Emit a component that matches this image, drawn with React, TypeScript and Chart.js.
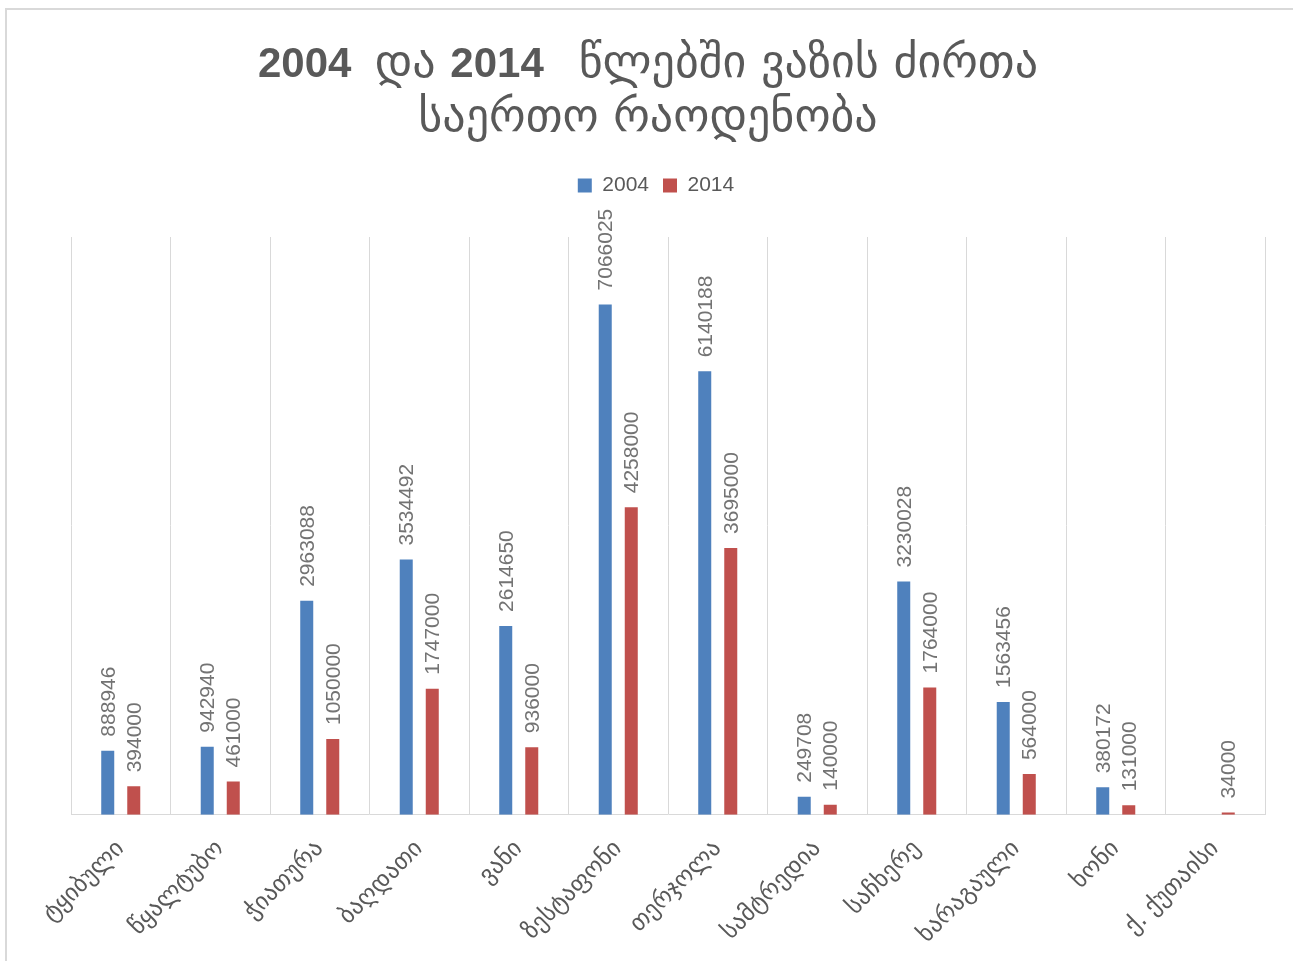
import React, { useEffect, useRef } from "react";
import { Chart, registerables } from "chart.js";

Chart.register(...registerables);

const categories = [
  "ტყიბული",
  "წყალტუბო",
  "ჭიათურა",
  "ბაღდათი",
  "ვანი",
  "ზესტაფონი",
  "თერჯოლა",
  "სამტრედია",
  "საჩხერე",
  "ხარაგაული",
  "ხონი",
  "ქ. ქუთაისი",
];

const values2004 = [888946, 942940, 2963088, 3534492, 2614650, 7066025, 6140188, 249708, 3230028, 1563456, 380172, null];
const values2014 = [394000, 461000, 1050000, 1747000, 936000, 4258000, 3695000, 140000, 1764000, 564000, 131000, 34000];

const seriesNames = ["2004", "2014"];
const titleLines = ["2004  და 2014   წლებში ვაზის ძირთა", "საერთო რაოდენობა"];

const FONT = "'Liberation Sans', 'DejaVu Sans', sans-serif";
const LATIN_TITLE = `bold 42px 'Liberation Sans', sans-serif`;
const GEO_TITLE = `46px 'DejaVu Sans', sans-serif`;

const splitRuns = (s: string) => {
  const runs: { t: string; geo: boolean }[] = [];
  for (const ch of s) {
    const geo = /[\u10A0-\u10FF]/.test(ch);
    const last = runs[runs.length - 1];
    if (last && (last.geo === geo || ch === " ")) last.t += ch;
    else runs.push({ t: ch, geo });
  }
  return runs;
};

const titlePlugin = {
  id: "mixedTitle",
  afterDraw(chart: any) {
    const ctx = chart.ctx;
    const tb = chart.titleBlock;
    if (!tb) return;
    const cx = chart.width / 2 - 2;
    const lineH = 54;
    ctx.save();
    ctx.fillStyle = "#595959";
    ctx.textBaseline = "middle";
    ctx.textAlign = "left";
    titleLines.forEach((line, li) => {
      const runs = splitRuns(line);
      let total = 0;
      const widths = runs.map((r) => {
        ctx.font = r.geo ? GEO_TITLE : LATIN_TITLE;
        const w = ctx.measureText(r.t).width;
        total += w;
        return w;
      });
      let x = cx - total / 2;
      const y = tb.top + 25 + li * lineH;
      runs.forEach((r, i) => {
        ctx.font = r.geo ? GEO_TITLE : LATIN_TITLE;
        ctx.fillText(r.t, x, y);
        x += widths[i];
      });
    });
    ctx.restore();
  },
};

const legendGap = {
  id: "legendGap",
  beforeInit(chart: any) {
    const legend = chart.legend;
    if (!legend) return;
    const orig = legend.fit;
    legend.fit = function () {
      orig.bind(legend)();
      this.height += 31;
    };
  },
  afterLayout(chart: any) {
    const legend = chart.legend;
    if (!legend) return;
    legend.left -= 12;
    legend.right -= 12;
  },
};

const dataLabelPlugin = {
  id: "vertLabels",
  afterDatasetsDraw(chart: any) {
    const ctx = chart.ctx;
    ctx.save();
    ctx.fillStyle = "#737373";
    ctx.font = `21px ${FONT}`;
    ctx.textAlign = "left";
    ctx.textBaseline = "middle";
    chart.data.datasets.forEach((ds: any, di: number) => {
      const meta = chart.getDatasetMeta(di);
      meta.data.forEach((el: any, i: number) => {
        const v = ds.data[i];
        if (v === null || v === undefined) return;
        ctx.save();
        ctx.translate(el.x + 1, el.y - 14);
        ctx.rotate(-Math.PI / 2);
        ctx.fillText(String(v), 0, 0);
        ctx.restore();
      });
    });
    ctx.restore();
  },
};

export default function App() {
  const ref = useRef<HTMLCanvasElement | null>(null);
  useEffect(() => {
    if (!ref.current) return;
    const chart = new Chart(ref.current, {
      type: "bar",
      data: {
        labels: categories,
        datasets: [
          { label: seriesNames[0], data: values2004, backgroundColor: "#4f81bd" },
          { label: seriesNames[1], data: values2014, backgroundColor: "#c0504d" },
        ],
      },
      options: {
        animation: false,
        responsive: false,
        maintainAspectRatio: false,
        layout: { padding: { left: 64, right: 28, top: 30, bottom: -8 } },
        datasets: { bar: { categoryPercentage: 0.523, barPercentage: 0.5 } },
        plugins: {
          title: {
            display: true,
            text: titleLines,
            color: "rgba(0,0,0,0)",
            font: { family: FONT, size: 40, weight: "bold", lineHeight: 1.3 },
            padding: { top: 0, bottom: 17 },
          },
          legend: {
            display: true,
            position: "top",
            labels: {
              color: "#595959",
              font: { family: FONT, size: 21 },
              boxWidth: 14,
              boxHeight: 14,
              padding: 14,
            },
          },
          tooltip: { enabled: false },
        },
        scales: {
          x: {
            grid: { display: true, color: "#d9d9d9", drawTicks: false, offset: true },
            border: { display: true, color: "#d9d9d9" },
            ticks: {
              color: "#595959",
              font: { family: "'DejaVu Sans', sans-serif", size: 24 },
              maxRotation: 45,
              minRotation: 45,
              padding: 20,
              autoSkip: false,
            },
          },
          y: {
            display: false,
            min: 0,
            max: 8000000,
          },
        },
      },
      plugins: [dataLabelPlugin, titlePlugin, legendGap],
    });
    return () => chart.destroy();
  }, []);
  return (
    <div
      style={{
        position: "absolute",
        left: 5,
        top: 8,
        width: 1288,
        height: 953,
        borderTop: "2px solid #d9d9d9",
        borderLeft: "2px solid #d9d9d9",
        background: "#fff",
      }}
    >
      <canvas ref={ref} width={1286} height={951} style={{ display: "block" }} />
    </div>
  );
}
